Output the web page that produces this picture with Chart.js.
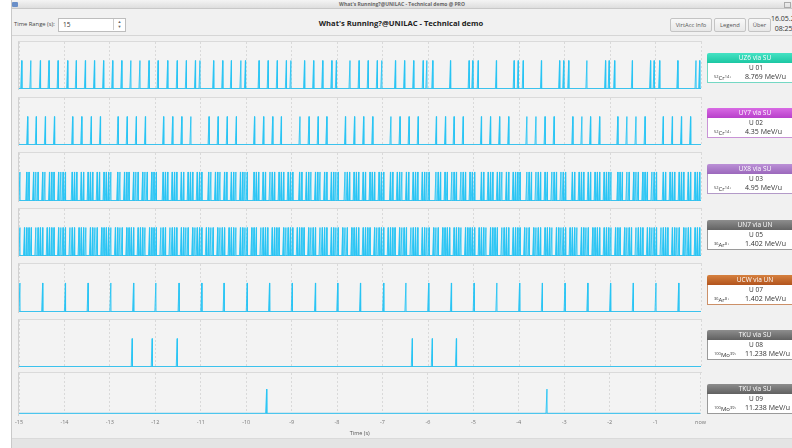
<!DOCTYPE html>
<html>
<head>
<meta charset="utf-8">
<script src="https://cdn.jsdelivr.net/npm/chart.js@4.4.1/dist/chart.umd.min.js"></script>
<style>
  body { margin: 0; width: 792px; height: 448px; overflow: hidden; background: #fff; font-family: "Open Sans", sans-serif; position: relative; }
  .abs { position: absolute; }
  #win { left: 11px; top: 0; width: 781px; height: 448px; background: #f1f1f1; border-left: 1px solid #c9c9c9; }
  #titlebar { left: 12px; top: 0; width: 780px; height: 8px; background: linear-gradient(#f4f4f4, #dedede); border-bottom: 1px solid #c8c8c8; font-size: 5px; font-weight: bold; color: #666; text-align: center; line-height: 8px; }
  #toolbar { left: 12px; top: 9px; width: 780px; height: 26px; border-bottom: 1px solid #d6d6d6; }
  .lbl { font-size: 5.8px; color: #444; }
  .btn { height: 12px; border: 1px solid #c4c4c4; border-radius: 2px; background: linear-gradient(#f8f8f8, #e8e8e8); font-size: 5.8px; color: #555; text-align: center; line-height: 12px; }
  .panel { background: #f3f3f3; border-top: 1px solid #dadada; border-left: 1px solid #d2d2d2; }
  .card { width: 96px; }
  .card .hd { height: 10px; color: #fff; font-size: 6.5px; text-align: center; line-height: 10px; border-radius: 2px 2px 0 0; }
  .card .bd { height: 19px; background: #fff; border: 1px solid #999; border-top: none; font-size: 6.5px; color: #333; position: relative; }
  .card .id { position: absolute; left: 0; width: 96px; top: 0; text-align: center; line-height: 9px; }
  .card .iso { position: absolute; left: 6px; top: 9px; line-height: 9px; font-size: 6px; }
  .card .iso sup { font-size: 4px; vertical-align: 2px; }
  .card .en { position: absolute; left: 37px; top: 9px; line-height: 9px; font-size: 7px; }
  canvas { position: absolute; }
</style>
</head>
<body>
<div id="win" class="abs"></div>
<div id="titlebar" class="abs">What's Running?@UNILAC - Technical demo @ PRO</div>
<div class="abs" style="left:12px;top:2px;width:6px;height:5px;background:#6a8fc8;border-radius:1px"></div>
<div class="abs" style="left:784px;top:2px;width:5px;height:4px;border:1px solid #aaa"></div>
<div id="toolbar" class="abs"></div>
<div class="abs lbl" style="left:14px;top:20px">Time Range (s):</div>
<div class="abs" style="left:58px;top:18px;width:66px;height:12px;background:#fff;border:1px solid #bdbdbd;font-size:6.5px;line-height:12px;color:#333"><span style="padding-left:4px">15</span></div>
<div class="abs" style="left:113px;top:19px;width:11px;height:11px;border-left:1px solid #ccc;font-size:4px;color:#666;text-align:center;line-height:5px">&#9650;<br>&#9660;</div>
<div class="abs" style="left:250px;top:18px;width:302px;text-align:center;font-size:7.6px;font-weight:bold;color:#222">What's Running?@UNILAC - Technical demo</div>
<div class="abs btn" style="left:670px;top:18px;width:40px">VirtAcc Info</div>
<div class="abs btn" style="left:714px;top:18px;width:30px">Legend</div>
<div class="abs btn" style="left:748px;top:18px;width:21px">Über</div>
<div class="abs" style="left:771px;top:14px;font-size:7px;color:#333;line-height:10px">16.05.2024<br>&nbsp;&nbsp;08:25</div>
<div class="abs" style="left:12px;top:438px;width:780px;height:10px;background:#e4e4e4;border-top:1px solid #dadada"></div>
<div id="stage"></div>

<script>
// x axis range, seconds before now
const timeMin = -15;
const timeMax = 0;
const tickStep = 1;

// pulse times (s)
const uz6Pulses = [-14.94, -14.74, -14.53, -14.34, -14.14, -13.93, -13.74, -13.54, -13.34, -13.14,
  -12.94, -12.74, -12.54, -12.34, -12.14, -11.94, -11.73, -11.52, -11.32, -11.12, -11.02,
  -10.72, -10.52, -10.33, -10.12, -10.02, -9.72, -9.52, -9.32, -9.12, -9.02,
  -8.72, -8.52, -8.32, -8.12, -8.02, -7.72, -7.52, -7.32, -7.12, -7.02,
  -6.72, -6.52, -6.32, -6.11, -6.03, -5.90, -5.51, -5.10, -5.02, -4.90, -4.50,
  -4.11, -4.02, -3.91, -3.51, -3.11, -3.02, -2.91, -2.51, -2.10, -2.02, -1.90,
  -1.51, -1.11, -1.03, -0.91, -0.51, -0.11, -0.03];

const uy7Pulses = [-14.81, -14.62, -14.42, -14.22, -13.82, -13.62, -13.41, -13.21,
  -12.82, -12.62, -12.42, -12.22, -11.82, -11.62, -11.42, -11.22,
  -10.82, -10.62, -10.42, -10.22, -9.82, -9.62, -9.42, -9.23,
  -8.82, -8.62, -8.42, -8.23, -7.82, -7.62, -7.42, -7.22,
  -6.82, -6.62, -6.42, -6.22, -5.82, -5.62, -5.43, -5.23,
  -4.83, -4.63, -4.43, -4.23, -3.83, -3.63, -3.43, -3.23,
  -2.82, -2.62, -2.43, -2.23, -1.83, -1.63, -1.43, -1.23,
  -0.83, -0.63, -0.43, -0.23];

// dense rows: one string per second, one char per 0.05 s slot (1 = pulse)
const ux8Slots = [
  '10011011101101110111', '10011101101110110111', '10011011101110111011', '10011101110110111011',
  '10011011101101110111', '10011101101110111011', '10011011101110110111', '10011101110110111011',
  '10011011101101110111', '10011101101110111011', '10011011101110110111', '10011101110110111011',
  '10011011101101110111', '10011101101110111011', '10011011101110110111'];

const un7Slots = [
  '10111101111011110111', '10111011110111101111', '10111101111011110111', '10111011110111101111',
  '10111101111011110111', '10111011110111101111', '10111101111011110111', '10111011110111101111',
  '10111101111011110111', '10111011110111101111', '10111101111011110111', '10111011110111101111',
  '10111101111011110111', '10111011110111101111', '10111101111011110111'];

const ucwPulses = [-14.98, -14.48, -13.98, -13.48, -12.98, -12.48, -11.99, -11.48, -10.98, -10.49,
  -9.98, -9.49, -8.99, -8.48, -7.99, -7.49, -6.98, -6.49, -5.99, -5.49,
  -4.99, -4.49, -3.99, -3.49, -2.99, -2.49, -1.99, -1.49, -0.99, -0.49];

const tku08Pulses = [-12.51, -12.07, -11.52, -6.35, -5.91, -5.38];
const tku09Pulses = [-9.55, -3.38];

// legend cards
const cardNames = ['UZ6 via SU', 'UY7 via SU', 'UX8 via SU', 'UN7 via UN', 'UCW via UN', 'TKU via SU', 'TKU via SU'];
const cardIds = ['U 01', 'U 02', 'U 03', 'U 05', 'U 07', 'U 08', 'U 09'];
const cardMass = ['52', '52', '52', '36', '36', '100', '100'];
const cardElement = ['Cr', 'Cr', 'Cr', 'Ar', 'Ar', 'Mo', 'Mo'];
const cardCharge = ['14+', '14+', '14+', '8+', '8+', '39+', '39+'];
const cardEnergy = ['8.769 MeV/u', '4.35 MeV/u', '4.95 MeV/u', '1.402 MeV/u', '1.402 MeV/u', '11.238 MeV/u', '11.238 MeV/u'];

const cardStyles = [
  { top: 53, bg: 'linear-gradient(#45e2c4, #1cc7a3)', border: '#74d8c4' },
  { top: 108, bg: 'linear-gradient(#d86ae4, #b840ca)', border: '#c993d6' },
  { top: 164, bg: 'linear-gradient(#bb90d6, #9b68bc)', border: '#b39ac8' },
  { top: 220, bg: 'linear-gradient(#8d8d8d, #636363)', border: '#9a9a9a' },
  { top: 275, bg: 'linear-gradient(#d6813f, #b2541d)', border: '#cc9068' },
  { top: 330, bg: 'linear-gradient(#8d8d8d, #606060)', border: '#9a9a9a' },
  { top: 384, bg: 'linear-gradient(#8d8d8d, #606060)', border: '#9a9a9a' }
];

const panelTops = [42, 98, 153, 209, 264, 320, 373];
const panelBottoms = [89, 145, 201, 256, 312, 367, 415];

const LINE = 'rgba(40, 196, 244, 0.9)';
const FILL = 'rgba(130, 215, 245, 0.28)';
const BASE = '#6fbcdc';

function pulsePoints(times) {
  const pts = [{ x: timeMin, y: 0 }];
  times.forEach(t => {
    pts.push({ x: t - 0.022, y: 0 }, { x: t, y: 1 }, { x: t + 0.004, y: 0 });
  });
  pts.push({ x: timeMax, y: 0 });
  return pts;
}

function slotTimes(slots) {
  const times = [];
  slots.forEach((s, sec) => {
    for (let i = 0; i < s.length; i++) {
      if (s[i] === '1') times.push(timeMin + sec + i * 0.05 + 0.02);
    }
  });
  return times;
}

const rows = [
  pulsePoints(uz6Pulses),
  pulsePoints(uy7Pulses),
  pulsePoints(slotTimes(ux8Slots)),
  pulsePoints(slotTimes(un7Slots)),
  pulsePoints(ucwPulses),
  pulsePoints(tku08Pulses),
  pulsePoints(tku09Pulses)
];

const stage = document.getElementById('stage');

rows.forEach((points, i) => {
  const isLast = i === rows.length - 1;
  const top = panelTops[i];
  const plotH = panelBottoms[i] - top;

  const panel = document.createElement('div');
  panel.className = 'abs panel';
  panel.style.left = '18px';
  panel.style.top = (top - 1) + 'px';
  panel.style.width = '683px';
  panel.style.height = (plotH + 1) + 'px';
  stage.appendChild(panel);

  const canvas = document.createElement('canvas');
  const h = isLast ? plotH + 22 : plotH + 1;
  canvas.width = 703;
  canvas.height = h;
  canvas.style.left = '8px';
  canvas.style.top = top + 'px';
  stage.appendChild(canvas);

  new Chart(canvas, {
    type: 'line',
    data: {
      datasets: [{
        data: points,
        borderColor: LINE,
        borderWidth: 1,
        backgroundColor: FILL,
        fill: 'origin',
        pointRadius: 0,
        tension: 0
      }, {
        // zero line along the bottom of each panel
        data: [{ x: timeMin, y: 0 }, { x: timeMax, y: 0 }],
        borderColor: BASE,
        borderWidth: 1.5,
        pointRadius: 0,
        fill: false
      }]
    },
    options: {
      responsive: false,
      animation: false,
      events: [],
      layout: { padding: { left: 11, right: 10, top: 0, bottom: isLast ? 0 : 1 } },
      plugins: { legend: { display: false }, tooltip: { enabled: false } },
      scales: {
        x: {
          type: 'linear',
          min: timeMin,
          max: timeMax,
          border: { display: false, dash: [2, 2] },
          grid: { color: '#d9d9d9', drawTicks: false, tickLength: 0 },
          ticks: {
            display: isLast,
            stepSize: tickStep,
            autoSkip: false,
            maxRotation: 0,
            padding: 5,
            color: '#777',
            font: { family: 'Open Sans', size: 5.5 },
            callback: v => (v === 0 ? 'now' : v)
          },
          title: {
            display: isLast,
            text: 'Time (s)',
            color: '#555',
            padding: { top: 0, bottom: 0 },
            font: { family: 'Open Sans', size: 5.5 }
          }
        },
        y: { display: false, min: -0.01, max: 1.66 }
      }
    }
  });
});

// legend cards on the right
cardNames.forEach((name, i) => {
  const st = cardStyles[i];
  const card = document.createElement('div');
  card.className = 'abs card';
  card.style.left = '707px';
  card.style.top = st.top + 'px';
  card.innerHTML =
    '<div class="hd" style="background:' + st.bg + '">' + name + '</div>' +
    '<div class="bd" style="border-color:' + st.border + '">' +
    '<div class="id">' + cardIds[i] + '</div>' +
    '<div class="iso"><sup>' + cardMass[i] + '</sup>' + cardElement[i] + '<sup>' + cardCharge[i] + '</sup></div>' +
    '<div class="en">' + cardEnergy[i] + '</div></div>';
  stage.appendChild(card);
});
</script>
</body>
</html>
